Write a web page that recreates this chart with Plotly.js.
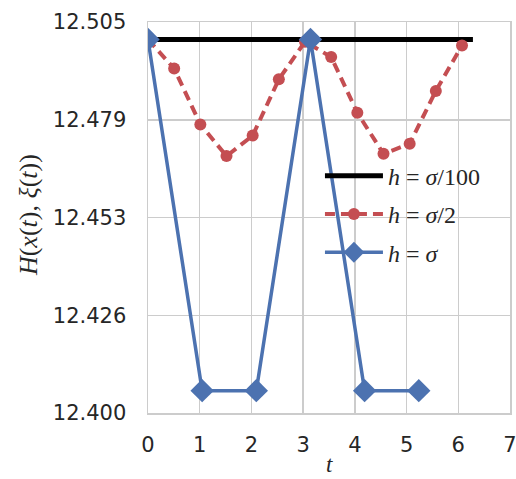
<!DOCTYPE html>
<html>
<head>
<meta charset="utf-8">
<script src="https://cdn.plot.ly/plotly-3.0.1.min.js"></script>
<style>html,body{margin:0;padding:0;background:#fff;}#chart{width:516px;height:479px;}</style>
</head>
<body>
<div id="chart"></div>
<script>
// Data
const tFine = [0, 6.2832];
const hFine = [12.5003, 12.5003];

const tHalf = [0, 0.506, 1.012, 1.518, 2.024, 2.530, 3.036, 3.542, 4.048, 4.554, 5.060, 5.566, 6.072];
const hHalf = [12.5003, 12.4925, 12.4775, 12.4690, 12.4745, 12.4896, 12.4997, 12.4956, 12.4806, 12.4696, 12.4723, 12.4865, 12.4987];

const tFull = [0, 1.0472, 2.0944, 3.1416, 4.1888, 5.2360];
const hFull = [12.5003, 12.4060, 12.4060, 12.5003, 12.4060, 12.4060];

const yTickVals = [12.4, 12.42625, 12.4525, 12.47875, 12.505];
const yTickText = ['12.400', '12.426', '12.453', '12.479', '12.505'];
const xTickVals = [0, 1, 2, 3, 4, 5, 6, 7];

const names = ['<i>h</i> = <i>σ</i>/100', '<i>h</i> = <i>σ</i>/2', '<i>h</i> = <i>σ</i>'];

const traces = [
  {x: tFine, y: hFine, name: names[0], mode: 'lines', legendgroup: 'a',
   line: {color: '#000000', width: 5}},
  {x: tHalf, y: hHalf, name: names[1], mode: 'lines+markers', legendgroup: 'b',
   line: {color: '#C44E52', width: 4, dash: '10px,6px'},
   marker: {symbol: 'circle', size: 12, color: '#C44E52'}},
  {x: tFull, y: hFull, name: names[2], mode: 'lines+markers', legendgroup: 'c',
   line: {color: '#4C72B0', width: 3.5},
   marker: {symbol: 'diamond', size: 18, color: '#4C72B0'}}
];

const gridC = '#cccccc';
const tickFont = {family: 'DejaVu Sans, sans-serif', size: 21, color: '#262626'};
const serif = 'Liberation Serif, DejaVu Serif, serif';

const layout = {
  width: 516, height: 479,
  margin: {l: 148, r: 6, t: 22, b: 66, pad: 0},
  paper_bgcolor: '#ffffff', plot_bgcolor: '#ffffff',
  showlegend: true,
  legend: {
    x: 0.475, y: 0.663, xanchor: 'left', yanchor: 'top',
    bgcolor: 'rgba(0,0,0,0)', borderwidth: 0,
    font: {family: serif, size: 24, color: '#262626'},
    tracegroupgap: 4, itemwidth: 58
  },
  xaxis: {
    range: [0, 7], tickvals: xTickVals, ticktext: xTickVals.map(String),
    showgrid: true, gridcolor: gridC, gridwidth: 1.5,
    showline: true, linecolor: gridC, linewidth: 1.5, mirror: true,
    zeroline: false, ticks: '', ticklabelstandoff: 12, tickfont: tickFont,
    ticklabeloverflow: 'allow'
  },
  yaxis: {
    range: [12.4, 12.505], tickvals: yTickVals, ticktext: yTickText,
    showgrid: true, gridcolor: gridC, gridwidth: 1.5,
    showline: true, linecolor: gridC, linewidth: 1.5, mirror: true,
    zeroline: false, ticks: '', ticklabelstandoff: 16, tickfont: tickFont
  },
  annotations: [
    {text: '<i>H</i>(<i>x</i>(<i>t</i>), <i>ξ</i>(<i>t</i>))', xref: 'paper', yref: 'paper',
     x: -0.33, y: 0.505, textangle: -90, showarrow: false, xanchor: 'center', yanchor: 'middle',
     font: {family: serif, size: 26, color: '#262626'}},
    {text: '<i>t</i>', xref: 'paper', yref: 'paper', x: 0.5, y: -0.17,
     showarrow: false, xanchor: 'center', yanchor: 'bottom',
     font: {family: serif, size: 23, color: '#262626'}}
  ]
};

Plotly.newPlot('chart', traces, layout, {displayModeBar: false, staticPlot: true});
</script>
</body>
</html>
